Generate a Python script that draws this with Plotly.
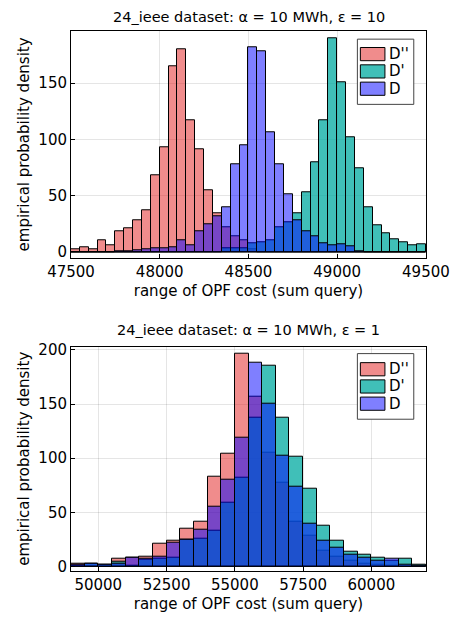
import numpy as np
import plotly.graph_objects as go

# ---------------- data ----------------
# top panel (epsilon = 10): bins of 50 from 47500 to 49500
top_bin_start = 47500
top_bin_width = 50
top_D2 = [2, 4, 2, 10, 6, 18, 21, 28, 37, 68, 93, 165, 180, 117, 91, 55, 34, 22, 14, 10,
          2, 0, 0, 0, 0, 0, 0, 0, 0, 0, 0, 0, 0, 0, 0, 0, 0, 0, 0, 0]
top_D1 = [0, 0, 0, 0, 0, 0, 0, 0, 0, 0, 0, 0, 0, 0, 0, 0, 0, 3, 3, 3,
          8, 9, 10, 22, 26, 34, 53, 80, 117, 190, 151, 102, 74, 40, 24, 17, 11, 9, 6, 7]
top_D0 = [0, 0, 0, 0, 0, 1, 1, 1.5, 2, 3, 3, 4, 10, 6, 18, 25, 32, 40, 78, 95,
          182, 178, 106, 78, 51, 28, 18, 14, 8, 6, 7, 5, 1, 0, 0, 0, 0, 0, 0, 0]
top_xticks = [47500, 48000, 48500, 49000, 49500]
top_yticks = [0, 50, 100, 150]

# bottom panel (epsilon = 1): bins of 500 from 49000 to 62000
bot_bin_start = 49000
bot_bin_width = 500
bot_D2 = [3, 0, 0, 7, 8, 9.5, 21, 24, 35, 41, 83, 104, 197, 157, 105, 77, 41, 28, 15, 9,
          5, 3, 2, 1, 0, 0]
bot_D1 = [1, 3, 2, 4, 1, 6.5, 7, 8.5, 25, 26, 33, 59, 82, 137, 185, 137, 101, 72, 38, 24,
          14, 11, 8, 5, 7, 2]
bot_D0 = [2, 3, 2, 3, 8, 7, 9, 22, 25, 34, 55, 80, 119, 188, 150, 102, 74, 40, 24, 17,
          11, 8.5, 5.5, 7, 2, 0.5]
bot_xticks = [50000, 52500, 55000, 57500, 60000]
bot_yticks = [0, 50, 100, 150, 200]

names = ["D''", "D'", "D"]
colors = ["rgba(225,25,25,0.5)", "rgba(0,170,160,0.75)", "rgba(0,0,255,0.5)"]

top_title = "24_ieee dataset: α = 10 MWh, ε = 10"
bot_title = "24_ieee dataset: α = 10 MWh, ε = 1"
x_title = "range of OPF cost (sum query)"
y_title = "empirical probability density"

FONT = "DejaVu Sans"
W, H = 450, 621
ml, mr = 71, 22
PW = W - ml - mr

fig = go.Figure()


def centers(start, width, n):
    return [start + width * (i + 0.5) for i in range(n)]


for series, name, col in zip([top_D2, top_D1, top_D0], names, colors):
    fig.add_trace(go.Bar(
        x=centers(top_bin_start, top_bin_width, len(series)), y=series,
        width=top_bin_width, name=name, showlegend=False,
        marker=dict(color=col, line=dict(color="black", width=1)),
        xaxis="x", yaxis="y",
    ))

for series, name, col in zip([bot_D2, bot_D1, bot_D0], names, colors):
    fig.add_trace(go.Bar(
        x=centers(bot_bin_start, bot_bin_width, len(series)), y=series,
        width=bot_bin_width, name=name, showlegend=False,
        marker=dict(color=col, line=dict(color="black", width=1)),
        xaxis="x2", yaxis="y2",
    ))

top_dom = [1 - 256.7 / H, 1 - 26.7 / H]
bot_dom = [1 - 575 / H, 1 - 347.3 / H]

axis_common = dict(
    showline=True, mirror=True, linecolor="black", linewidth=1,
    ticks="inside", ticklen=4, tickcolor="black",
    showgrid=True, gridcolor="rgba(0,0,0,0.1)", gridwidth=1,
    zeroline=False, tickfont=dict(family=FONT, size=15, color="black"),
    ticklabeloverflow="allow",
)


def px_x(px):
    return (px - ml) / PW


def px_y(py):
    return 1 - py / H


shapes = []
annotations = []


def add_legend(box, row_tops):
    x0, y0, x1, y1 = box
    shapes.append(dict(type="rect", xref="paper", yref="paper", layer="above",
                       x0=px_x(x0), x1=px_x(x1), y0=px_y(y1), y1=px_y(y0),
                       fillcolor="white", line=dict(color="#444444", width=1)))
    for ry0, name, col in zip(row_tops, names, colors):
        ry1 = ry0 + 13.4
        shapes.append(dict(type="rect", xref="paper", yref="paper", layer="above",
                           x0=px_x(362), x1=px_x(386.7), y0=px_y(ry1), y1=px_y(ry0),
                           fillcolor=col, line=dict(color="black", width=1)))
        annotations.append(dict(text=name, xref="paper", yref="paper",
                                x=px_x(388.5), y=px_y((ry0 + ry1) / 2),
                                xanchor="left", yanchor="middle", showarrow=False,
                                font=dict(family=FONT, size=15, color="black")))


add_legend((359, 34.7, 415.7, 101), [43.2, 60.8, 78.4])
add_legend((359, 354.3, 415.7, 421), [363.5, 381.0, 398.5])

for t, py in [(top_title, 12), (bot_title, 330)]:
    annotations.append(dict(text=t, xref="paper", yref="paper", x=0.5, y=px_y(py),
                            xanchor="center", yanchor="middle", showarrow=False,
                            font=dict(family=FONT, size=14.5, color="black")))

fig.update_layout(
    width=W, height=H,
    margin=dict(l=ml, r=mr, t=0, b=0),
    paper_bgcolor="white", plot_bgcolor="white",
    barmode="overlay", bargap=0,
    font=dict(family=FONT, size=14, color="black"),
    xaxis=dict(axis_common, domain=[0, 1], anchor="y", range=[47500, 49500.5],
               tickvals=top_xticks, ticktext=[str(v) for v in top_xticks],
               title=dict(text=x_title, font=dict(family=FONT, size=15), standoff=5)),
    yaxis=dict(axis_common, domain=top_dom, anchor="x", range=[-5, 196],
               tickvals=top_yticks, ticktext=[str(v) for v in top_yticks],
               title=dict(text=y_title, font=dict(family=FONT, size=15), standoff=5)),
    xaxis2=dict(axis_common, domain=[0, 1], anchor="y2", range=[49000, 62000],
                tickvals=bot_xticks, ticktext=[str(v) for v in bot_xticks],
                title=dict(text=x_title, font=dict(family=FONT, size=15), standoff=5)),
    yaxis2=dict(axis_common, domain=bot_dom, anchor="x2", range=[-3.9, 203],
                tickvals=bot_yticks, ticktext=[str(v) for v in bot_yticks],
                title=dict(text=y_title, font=dict(family=FONT, size=15), standoff=5)),
    shapes=shapes,
    annotations=annotations,
)

fig.write_html("out.html")
